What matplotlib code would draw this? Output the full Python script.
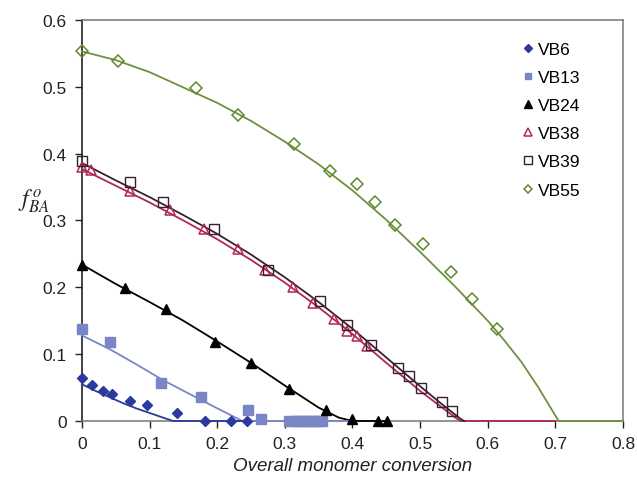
import matplotlib.pyplot as plt

plt.rcParams['font.family'] = ['Liberation Sans', 'DejaVu Sans']
plt.rcParams['mathtext.fontset'] = 'stix'

# measured points
vb6_x = [0, 0.0155, 0.031, 0.045, 0.071, 0.096, 0.141, 0.182, 0.221, 0.244]
vb6_y = [0.064, 0.054, 0.045, 0.041, 0.030, 0.024, 0.012, 0, 0, 0]

vb13_x = [0, 0.042, 0.117, 0.176, 0.246, 0.265, 0.306, 0.315, 0.32, 0.325,
          0.33, 0.335, 0.34, 0.345, 0.35, 0.355]
vb13_y = [0.138, 0.118, 0.057, 0.036, 0.017, 0.003, 0, 0, 0, 0,
          0, 0, 0, 0, 0, 0]

vb24_x = [0, 0.064, 0.124, 0.196, 0.25, 0.306, 0.361, 0.400, 0.437, 0.451]
vb24_y = [0.234, 0.199, 0.168, 0.118, 0.087, 0.048, 0.016, 0.003, 0, 0]

vb38_x = [0, 0.014, 0.071, 0.13, 0.18, 0.23, 0.27, 0.312, 0.341, 0.372,
          0.392, 0.407, 0.421]
vb38_y = [0.380, 0.375, 0.344, 0.316, 0.287, 0.257, 0.226, 0.200, 0.176,
          0.153, 0.135, 0.127, 0.112]

vb39_x = [0, 0.071, 0.120, 0.195, 0.275, 0.352, 0.392, 0.428, 0.468, 0.484,
          0.501, 0.532, 0.547]
vb39_y = [0.389, 0.358, 0.328, 0.287, 0.226, 0.179, 0.143, 0.114, 0.080,
          0.068, 0.049, 0.028, 0.015]

vb55_x = [0, 0.053, 0.169, 0.231, 0.313, 0.367, 0.406, 0.434, 0.463, 0.505,
          0.545, 0.577, 0.613]
vb55_y = [0.553, 0.539, 0.499, 0.458, 0.414, 0.374, 0.354, 0.327, 0.294,
          0.265, 0.223, 0.183, 0.137]

# model curves
fit6_x = [0, 0.02, 0.04, 0.06, 0.08, 0.10, 0.12, 0.135, 0.25]
fit6_y = [0.055, 0.045, 0.036, 0.027, 0.019, 0.012, 0.005, 0, 0]

fit13_x = [0, 0.04, 0.08, 0.12, 0.16, 0.2, 0.237, 0.4]
fit13_y = [0.128, 0.108, 0.085, 0.061, 0.040, 0.019, 0, 0]

fit24_x = [0, 0.05, 0.1, 0.15, 0.2, 0.25, 0.3, 0.35, 0.38, 0.4, 0.45]
fit24_y = [0.234, 0.205, 0.178, 0.150, 0.119, 0.087, 0.053, 0.020, 0.005, 0, 0]

fit38_x = [0, 0.05, 0.1, 0.15, 0.2, 0.25, 0.3, 0.35, 0.4, 0.45, 0.5, 0.53,
           0.555, 0.56, 0.7]
fit38_y = [0.377, 0.352, 0.327, 0.300, 0.272, 0.241, 0.207, 0.170, 0.130,
           0.087, 0.045, 0.022, 0.003, 0, 0]

fit39_x = [0, 0.05, 0.1, 0.15, 0.2, 0.25, 0.3, 0.35, 0.4, 0.45, 0.5, 0.53,
           0.56, 0.565]
fit39_y = [0.386, 0.360, 0.335, 0.308, 0.280, 0.249, 0.215, 0.178, 0.138,
           0.095, 0.052, 0.027, 0.003, 0]

fit55_x = [0, 0.05, 0.1, 0.15, 0.2, 0.25, 0.3, 0.35, 0.4, 0.45, 0.5, 0.55,
           0.6, 0.625, 0.65, 0.675, 0.7, 0.705, 0.8]
fit55_y = [0.553, 0.540, 0.522, 0.499, 0.476, 0.449, 0.418, 0.384, 0.345,
           0.301, 0.253, 0.203, 0.150, 0.120, 0.088, 0.050, 0.008, 0, 0]

c6 = '#2b3a9e'
c13 = '#7a85c6'
c24 = '#000000'
c38 = '#b0284f'
c39 = '#3a1f34'
c55 = '#5f8a2c'

fig = plt.figure(figsize=(6.37, 4.85), dpi=100)
ax = fig.add_axes([0.1287, 0.1299, 0.8493, 0.8268])

# curves first so markers sit on top; they run along y=0 over the axis line
line_kw = dict(lw=1.3, clip_on=False, zorder=3)
ax.plot(fit55_x, fit55_y, color='#6f9040', **line_kw)
ax.plot(fit38_x, fit38_y, color=c38, **line_kw)
ax.plot(fit39_x, fit39_y, color=c39, **line_kw)
ax.plot(fit24_x, fit24_y, color=c24, **line_kw)
ax.plot(fit13_x, fit13_y, color=c13, **line_kw)
ax.plot(fit6_x, fit6_y, color=c6, **line_kw)

mk_kw = dict(ls='none', clip_on=False, zorder=4)
ax.plot(vb6_x, vb6_y, 'D', color=c6, ms=5.5, label='VB6', **mk_kw)
ax.plot(vb13_x, vb13_y, 's', color=c13, ms=6.5, label='VB13', **mk_kw)
ax.plot(vb24_x, vb24_y, '^', color=c24, ms=7.5, label='VB24', **mk_kw)
ax.plot(vb38_x, vb38_y, '^', mfc='none', mec=c38, mew=1.1, ms=7.5,
        label='VB38', **mk_kw)
ax.plot(vb39_x, vb39_y, 's', mfc='none', mec=c39, mew=1.0, ms=7.5,
        label='VB39', **mk_kw)
ax.plot(vb55_x, vb55_y, 'D', mfc='none', mec=c55, mew=1.1, ms=6,
        label='VB55', **mk_kw)

ax.set_xlim(0, 0.8)
ax.set_ylim(0, 0.6)
ax.set_xticks([0, 0.1, 0.2, 0.3, 0.4, 0.5, 0.6, 0.7, 0.8])
ax.set_xticklabels(['0', '0.1', '0.2', '0.3', '0.4', '0.5', '0.6', '0.7', '0.8'])
ax.set_yticks([0, 0.1, 0.2, 0.3, 0.4, 0.5, 0.6])
ax.set_yticklabels(['0', '0.1', '0.2', '0.3', '0.4', '0.5', '0.6'])
ax.tick_params(labelsize=12.5, length=5, width=1, colors='#222222', pad=6)

for side in ['top', 'right', 'bottom']:
    ax.spines[side].set_color('#777777')
ax.spines['left'].set_color('#111111')
for s in ax.spines.values():
    s.set_linewidth(1.1)

ax.set_xlabel('Overall monomer conversion', fontsize=13.5, style='italic',
              color='#222222', labelpad=4)
ax.text(-0.072, 0.33, r'$f_{BA}^{\,o}$', fontsize=17, ha='center', va='center',
        color='#222222')

ax.legend(loc='upper left', bbox_to_anchor=(0.785, 0.985), frameon=False,
          fontsize=12.5, handlelength=0.6, handletextpad=0.3, labelspacing=0.75,
          markerscale=0.7, numpoints=1)

fig.savefig('out.png', dpi=100)
